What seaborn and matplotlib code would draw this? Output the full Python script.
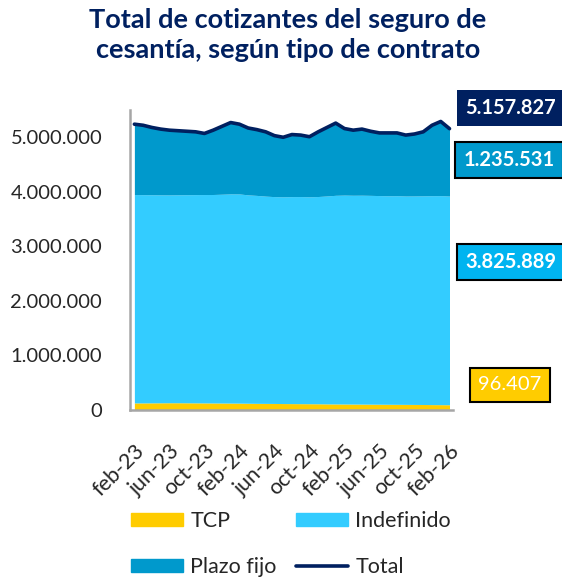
# Total de cotizantes del seguro de cesantía, según tipo de contrato
import seaborn as sns
import matplotlib.pyplot as plt
import matplotlib.ticker as mticker
from matplotlib.patches import Patch
from matplotlib.lines import Line2D
import numpy as np

# Monthly data feb-23 .. feb-26 (37 months)
tcp = [130000, 130000, 131000, 132000, 133000, 133000, 132000, 131000, 130000, 129000,
       128000, 127000, 126000, 124000, 122000, 121000, 120000, 118000, 117000, 116000,
       115000, 114000, 112000, 111000, 110000, 109000, 108000, 107000, 106000, 105000,
       104000, 103000, 102000, 101000, 99000, 98000, 96407]
indefinido = [3820000, 3818000, 3815000, 3812000, 3810000, 3812000, 3815000, 3818000, 3820000, 3822000,
              3828000, 3835000, 3835000, 3820000, 3812000, 3800000, 3792000, 3790000, 3795000, 3797000,
              3793000, 3800000, 3812000, 3825000, 3830000, 3828000, 3830000, 3828000, 3825000, 3822000,
              3825000, 3820000, 3822000, 3825000, 3830000, 3832000, 3825889]
plazo_fijo = [1290000, 1272000, 1234000, 1206000, 1187000, 1175000, 1163000, 1151000, 1120000, 1179000,
              1244000, 1308000, 1279000, 1226000, 1206000, 1179000, 1118000, 1092000, 1138000, 1127000,
              1102000, 1186000, 1256000, 1324000, 1220000, 1193000, 1212000, 1175000, 1149000, 1153000,
              1151000, 1117000, 1136000, 1174000, 1291000, 1360000, 1235531]
total = [5240000, 5220000, 5180000, 5150000, 5130000, 5120000, 5110000, 5100000, 5070000, 5130000,
         5200000, 5270000, 5240000, 5170000, 5140000, 5100000, 5030000, 5000000, 5050000, 5040000,
         5010000, 5100000, 5180000, 5260000, 5160000, 5130000, 5150000, 5110000, 5080000, 5080000,
         5080000, 5040000, 5060000, 5100000, 5220000, 5290000, 5157827]
tick_labels = ["feb-23", "jun-23", "oct-23", "feb-24", "jun-24", "oct-24",
               "feb-25", "jun-25", "oct-25", "feb-26"]

c_tcp, c_indef, c_plazo, c_total = "#FFCC00", "#33CCFF", "#0099CC", "#002060"
grey = "#A6A6A6"

sns.set_style("white")
plt.rcParams['font.family'] = ['Lato', 'DejaVu Sans']

W, H = 562, 580
fig = plt.figure(figsize=(W / 100, H / 100), dpi=100)
ax = fig.add_axes([130 / W, 1 - 410 / H, (453 - 130) / W, 300 / H])

x = np.arange(len(total))
ax.stackplot(x, tcp, indefinido, plazo_fijo, colors=[c_tcp, c_indef, c_plazo], linewidth=0)
sns.lineplot(x=x, y=total, ax=ax, color=c_total, linewidth=2.6, legend=False)

ax.set_xlim(-0.5, 36.4)
ax.set_ylim(0, 5.5e6)
ax.set_yticks(np.arange(0, 5000001, 1000000))
ax.yaxis.set_major_formatter(mticker.FuncFormatter(lambda v, p: f"{v:,.0f}".replace(",", ".")))
ax.tick_params(axis='y', length=8, width=1.5, color=grey, labelsize=14.5, pad=12)

ax.set_xticks(np.arange(0, 37, 4))
ax.set_xticklabels(tick_labels, rotation=45, ha='right', rotation_mode='anchor')
ax.set_xticks(np.arange(-0.5, 36, 4), minor=True)
ax.tick_params(axis='x', which='major', length=0, labelsize=15.5, pad=22)
ax.tick_params(axis='x', which='minor', length=6, width=1.5, color=grey, direction='out')
ax.set_xlabel("")
ax.set_ylabel("")

for s in ["top", "right"]:
    ax.spines[s].set_visible(False)
for s in ["left", "bottom"]:
    ax.spines[s].set_color(grey)
    ax.spines[s].set_linewidth(1.8)

fig.text(288 / W, 1 - 8 / H, "Total de cotizantes del seguro de\ncesantía, según tipo de contrato",
         ha='center', va='top', fontsize=19.5, fontweight='bold', color=c_total, linespacing=1.3)

# End-value labels on the right
def fmt(v):
    return f"{v:,.0f}".replace(",", ".")

boxes = [
    (fmt(total[-1]), 510, 108, c_total, "none", 'bold'),
    (fmt(plazo_fijo[-1]), 509, 160, c_plazo, "black", 'bold'),
    (fmt(indefinido[-1]), 511, 262, "#00B4F0", "black", 'bold'),
    (fmt(tcp[-1]), 510, 385, c_tcp, "black", 'normal'),
]
for txt, px, py, bg, ec, fw in boxes:
    fig.text(px / W, 1 - py / H, txt, ha='center', va='center', fontsize=14.5,
             color='white', fontweight=fw,
             bbox=dict(boxstyle='square,pad=0.4', facecolor=bg, edgecolor=ec, linewidth=1.5))

handles = [Patch(color=c_tcp, label="TCP"), Patch(color=c_plazo, label="Plazo fijo"),
           Patch(color=c_indef, label="Indefinido"),
           Line2D([0], [0], color=c_total, linewidth=2.6, label="Total")]
fig.legend(handles=handles, ncol=2, loc='upper left', bbox_to_anchor=(131 / W, 1 - 511 / H),
           frameon=False, fontsize=15.5, handlelength=2.4, handleheight=0.55,
           handletextpad=0.35, columnspacing=0.9, labelspacing=1.2, borderpad=0, borderaxespad=0)

fig.savefig("out.png", dpi=100, facecolor='white')
